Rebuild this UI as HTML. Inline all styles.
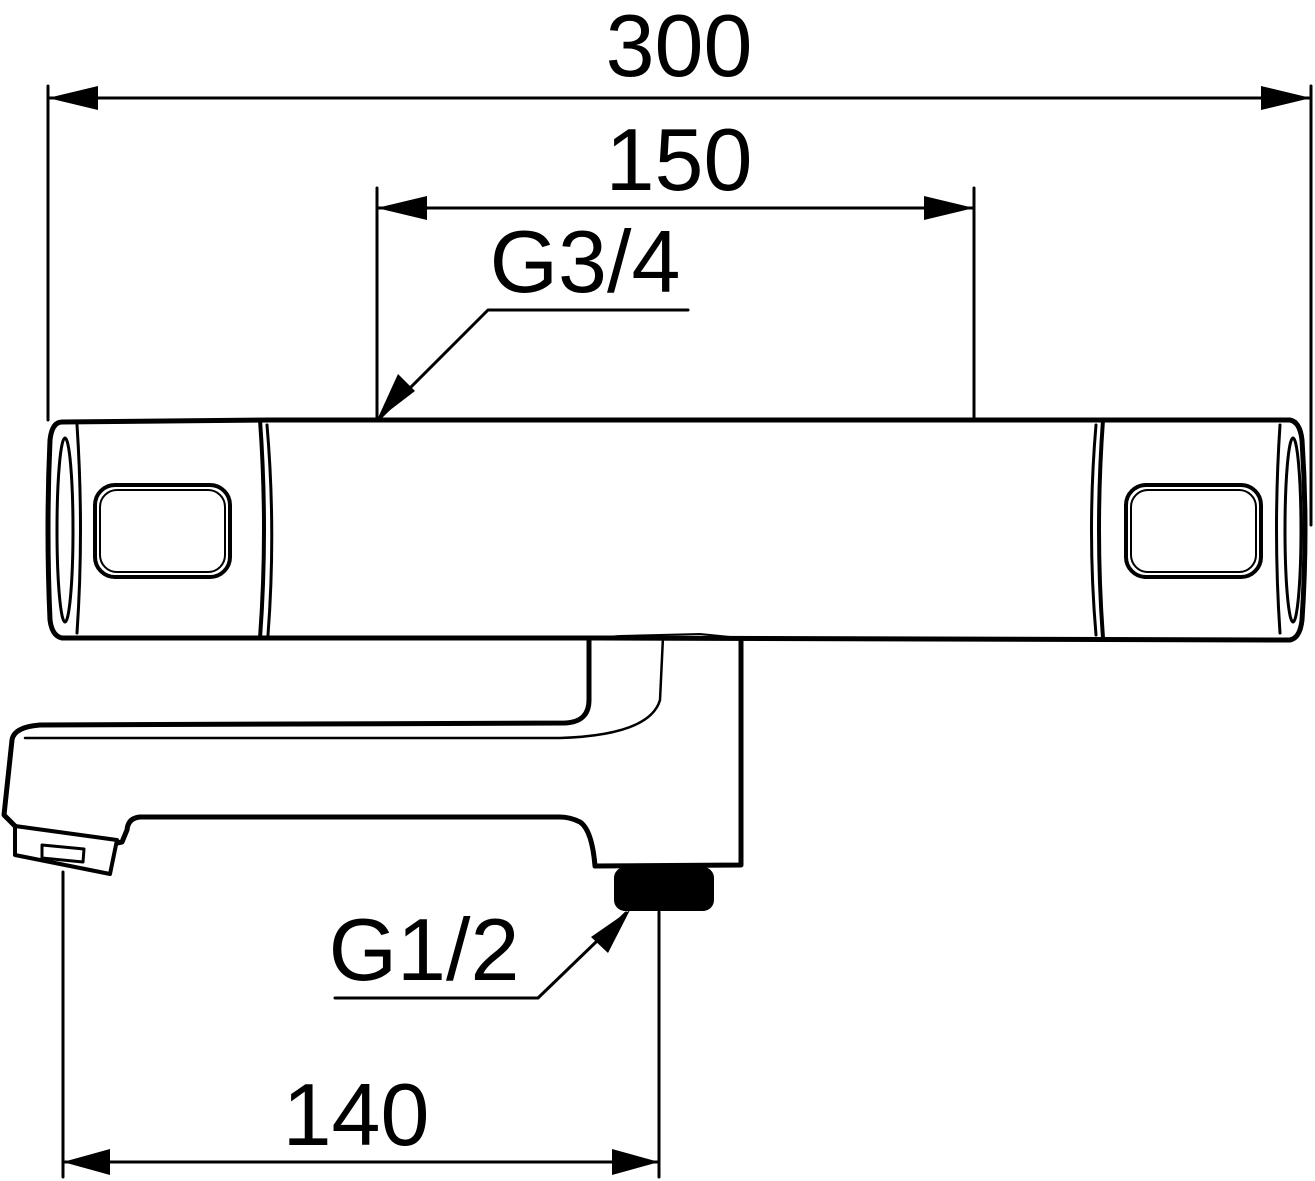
<!DOCTYPE html>
<html><head><meta charset="utf-8"><style>html,body{margin:0;padding:0;background:#fff}svg{display:block}</style></head>
<body>
<svg width="1315" height="1181" viewBox="0 0 1315 1181" xmlns="http://www.w3.org/2000/svg">
<g fill="none" stroke="#000" stroke-linecap="round" stroke-linejoin="round">
<!-- dimension 300 -->
<line x1="48" y1="86" x2="48" y2="420" stroke-width="3"/>
<line x1="1311" y1="86" x2="1311" y2="525" stroke-width="3"/>
<line x1="48" y1="98" x2="1311" y2="98" stroke-width="3"/>
<!-- dimension 150 -->
<line x1="377" y1="188" x2="377" y2="420" stroke-width="3"/>
<line x1="974" y1="188" x2="974" y2="420" stroke-width="3"/>
<line x1="377" y1="208" x2="974" y2="208" stroke-width="3"/>
<!-- G3/4 leader -->
<polyline points="688,310 488,310 380,418" stroke-width="3"/>
<!-- body -->
<path d="M62,422 L270,420 L1290,420 Q1300,422 1302,440 Q1308,530 1302,620 Q1300,638 1290,640 L600,638 L62,638 Q52,636 50,620 Q46,530 50,440 Q52,422 62,422 Z" stroke-width="5"/>
<ellipse cx="65" cy="530" rx="8" ry="92" stroke-width="3"/>
<path d="M77,425 Q84,530 77,633" stroke-width="3"/>
<path d="M260,420 Q268,530 260,638" stroke-width="4"/>
<path d="M267,425 Q276,530 268,635" stroke-width="3"/>
<path d="M1103,420 Q1095,530 1103,638" stroke-width="4"/>
<path d="M1096,425 Q1087,530 1096,635" stroke-width="3"/>
<ellipse cx="1293" cy="530" rx="8" ry="92" stroke-width="3"/>
<path d="M1280,425 Q1273,530 1280,633" stroke-width="3"/>
<rect x="95" y="485" width="135" height="92" rx="20" stroke-width="4"/>
<rect x="100" y="490" width="125" height="82" rx="17" stroke-width="2"/>
<rect x="1126" y="485" width="135" height="92" rx="20" stroke-width="4"/>
<rect x="1131" y="490" width="125" height="82" rx="17" stroke-width="2"/>
<!-- spout -->
<path d="M589,640 L589,700 Q589,722 565,723 L40,725 Q14,727 12,740 L4,815 L15,826" stroke-width="5"/>
<path d="M25,738 L560,738 Q650,735 660,700 L663,637" stroke-width="2.5"/>
<path d="M741,640 L741,865 L595,866 Q592,830 580,822 Q570,817 560,817 L140,817 Q128,818 127,830 L122,842 L117,843" stroke-width="5"/>
<path d="M15,826 L117,840 L110,874 L15,855 Z" stroke-width="4"/>
<path d="M42,845 L84,849 L83,862 L42,858 Z" stroke-width="3"/>
<path d="M592,638 L620,636 L700,634 L740,638" stroke-width="2"/>
<!-- nut -->
<rect x="615" y="868" width="98" height="42" rx="10" fill="#000" stroke-width="2"/>
<!-- G1/2 leader -->
<polyline points="335,998 538,998 626,913" stroke-width="3"/>
<!-- dimension 140 -->
<line x1="63" y1="872" x2="63" y2="1177" stroke-width="3"/>
<line x1="659" y1="912" x2="659" y2="1177" stroke-width="3"/>
<line x1="63" y1="1162" x2="659" y2="1162" stroke-width="3"/>
</g>
<g fill="#000">
<polygon points="48,98 98,86 98,110"/>
<polygon points="1311,98 1261,86 1261,110"/>
<polygon points="377,208 427,196 427,220"/>
<polygon points="974,208 924,196 924,220"/>
<polygon points="377,420 398,374 415,391"/>
<polygon points="630,910 591,937 608,953"/>
<polygon points="63,1162 110,1149 110,1175"/>
<polygon points="659,1162 612,1149 612,1175"/>
</g>
<g font-family="'Liberation Sans', sans-serif" font-size="88" fill="#000">
<text x="679" y="76" text-anchor="middle">300</text>
<text x="679" y="190" text-anchor="middle">150</text>
<text x="585" y="292" text-anchor="middle">G3/4</text>
<text x="424" y="980" text-anchor="middle">G1/2</text>
<text x="356" y="1145" text-anchor="middle">140</text>
</g>
</svg>
</body></html>
